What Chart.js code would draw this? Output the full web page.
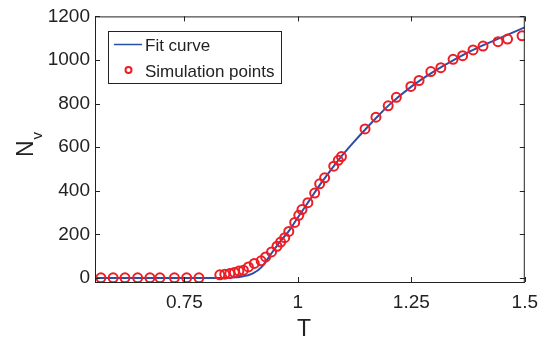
<!DOCTYPE html>
<html>
<head>
<meta charset="utf-8">
<script src="https://cdn.jsdelivr.net/npm/chart.js@4"></script>
<style>
  html, body { margin: 0; padding: 0; background: #fff; }
  #wrap { width: 547px; height: 339px; }
</style>
</head>
<body>
<div id="wrap"><canvas id="nvChart" width="547" height="339"></canvas></div>
<script>
// simulation points (T, Nv)
const simT = [0.566, 0.593, 0.619, 0.647, 0.674, 0.696, 0.728, 0.755, 0.782,
  0.828, 0.839, 0.850, 0.860, 0.870, 0.880, 0.891, 0.904, 0.919, 0.929,
  0.942, 0.954, 0.962, 0.971, 0.980, 0.993, 1.002, 1.009, 1.022, 1.037,
  1.048, 1.059, 1.079, 1.089, 1.096, 1.148, 1.172, 1.199, 1.217, 1.249,
  1.267, 1.293, 1.315, 1.342, 1.363, 1.386, 1.408, 1.441, 1.462, 1.494];
const simNv = [1, 1, 1, 1, 1, 1, 1, 1, 1,
  15, 18, 21, 26, 32, 36, 51, 67, 79, 97,
  120, 146, 165, 185, 214, 255, 288, 314, 346, 390,
  432, 460, 513, 540, 557, 684, 738, 790, 829, 879,
  906, 947, 965, 1003, 1020, 1046, 1064, 1084, 1096, 1111];

// fit curve
const fitT = [0.553, 0.7, 0.8, 0.85, 0.875, 0.9, 0.92, 0.94, 0.96, 0.98, 1.0,
  1.025, 1.05, 1.075, 1.1, 1.125, 1.15, 1.175, 1.2, 1.25, 1.3, 1.35, 1.4, 1.45, 1.5];
const fitNv = [0, 0, 0, 2, 6, 20, 50, 108, 165, 215, 278,
  355, 432, 502, 568, 628, 685, 740, 792, 878, 948, 1008, 1060, 1105, 1150];

const xTicks = [0.75, 1, 1.25, 1.5];
const yTicks = [0, 200, 400, 600, 800, 1000, 1200];

const blue = '#2b4ea6';
const red = '#ee1c25';
const ink = '#222';

// MATLAB-ish box, inward ticks, legend and axis titles
const matlabBox = {
  id: 'matlabBox',
  afterDraw(chart) {
    const c = chart.ctx;
    const a = chart.chartArea;
    const xs = chart.scales.x, ys = chart.scales.y;
    c.save();
    c.strokeStyle = ink;
    c.lineWidth = 1;
    c.strokeRect(a.left + 0.5, a.top + 0.5, a.right - a.left - 1, a.bottom - a.top);
    c.beginPath();
    xTicks.forEach(v => {
      const px = Math.round(xs.getPixelForValue(v)) + 0.5;
      c.moveTo(px, a.bottom); c.lineTo(px, a.bottom - 5);
      c.moveTo(px, a.top); c.lineTo(px, a.top + 5);
    });
    yTicks.forEach(v => {
      const py = Math.round(ys.getPixelForValue(v)) + 0.5;
      c.moveTo(a.left, py); c.lineTo(a.left + 5, py);
      c.moveTo(a.right, py); c.lineTo(a.right - 5, py);
    });
    c.stroke();

    // legend
    const lx = 108, ly = 31, lw = 173, lh = 52;
    c.fillStyle = '#fff';
    c.fillRect(lx, ly, lw, lh);
    c.strokeStyle = ink;
    c.strokeRect(lx + 0.5, ly + 0.5, lw, lh);
    c.strokeStyle = blue;
    c.lineWidth = 1.5;
    c.beginPath(); c.moveTo(114, 44.5); c.lineTo(142, 44.5); c.stroke();
    c.strokeStyle = red;
    c.lineWidth = 2;
    c.beginPath(); c.arc(128.5, 70, 3, 0, Math.PI * 2); c.stroke();
    c.fillStyle = ink;
    c.font = '17px "Liberation Sans", Arial, sans-serif';
    c.textBaseline = 'alphabetic';
    c.textAlign = 'left';
    c.fillText('Fit curve', 145, 51);
    c.fillText('Simulation points', 145, 77);

    // x title
    c.font = '23px "Liberation Sans", Arial, sans-serif';
    c.textAlign = 'center';
    c.fillText('T', 304, 336);

    // y title N_v
    c.translate(33, 157);
    c.rotate(-Math.PI / 2);
    c.textAlign = 'left';
    c.fillText('N', 0, 0);
    const nw = c.measureText('N').width;
    c.font = '15px "Liberation Sans", Arial, sans-serif';
    c.fillText('v', nw + 1, 9);
    c.restore();
  }
};

new Chart(document.getElementById('nvChart'), {
  type: 'scatter',
  data: {
    datasets: [
      {
        label: 'Fit curve',
        type: 'line',
        data: fitT.map((t, i) => ({ x: t, y: fitNv[i] })),
        borderColor: blue,
        borderWidth: 2,
        pointRadius: 0,
        tension: 0.4,
        cubicInterpolationMode: 'monotone',
        fill: false,
        order: 2
      },
      {
        label: 'Simulation points',
        data: simT.map((t, i) => ({ x: t, y: simNv[i] })),
        borderColor: red,
        backgroundColor: 'rgba(0,0,0,0)',
        borderWidth: 2,
        pointRadius: 4.5,
        pointStyle: 'circle',
        order: 1
      }
    ]
  },
  options: {
    responsive: false,
    animation: false,
    devicePixelRatio: 1,
    layout: { padding: { left: 0, right: 22, top: 15, bottom: 0 } },
    plugins: {
      legend: { display: false },
      tooltip: { enabled: false }
    },
    scales: {
      x: {
        type: 'linear',
        min: 0.553,
        max: 1.5,
        afterBuildTicks: s => { s.ticks = xTicks.map(v => ({ value: v })); },
        afterFit: s => { s.height = 57; },
        grid: { display: false, drawTicks: false },
        border: { display: true, color: ink, width: 1 },
        ticks: {
          color: ink,
          padding: 9,
          font: { family: '"Liberation Sans", Arial, sans-serif', size: 19 },
          callback: v => String(v),
          maxRotation: 0
        }
      },
      y: {
        type: 'linear',
        min: -18,
        max: 1200,
        afterBuildTicks: s => { s.ticks = yTicks.map(v => ({ value: v })); },
        afterFit: s => { s.width = 95; },
        grid: { display: false, drawTicks: false },
        border: { display: true, color: ink, width: 1 },
        ticks: {
          color: ink,
          padding: 5,
          font: { family: '"Liberation Sans", Arial, sans-serif', size: 19 },
          callback: v => String(v)
        }
      }
    }
  },
  plugins: [matlabBox]
});
</script>
</body>
</html>
